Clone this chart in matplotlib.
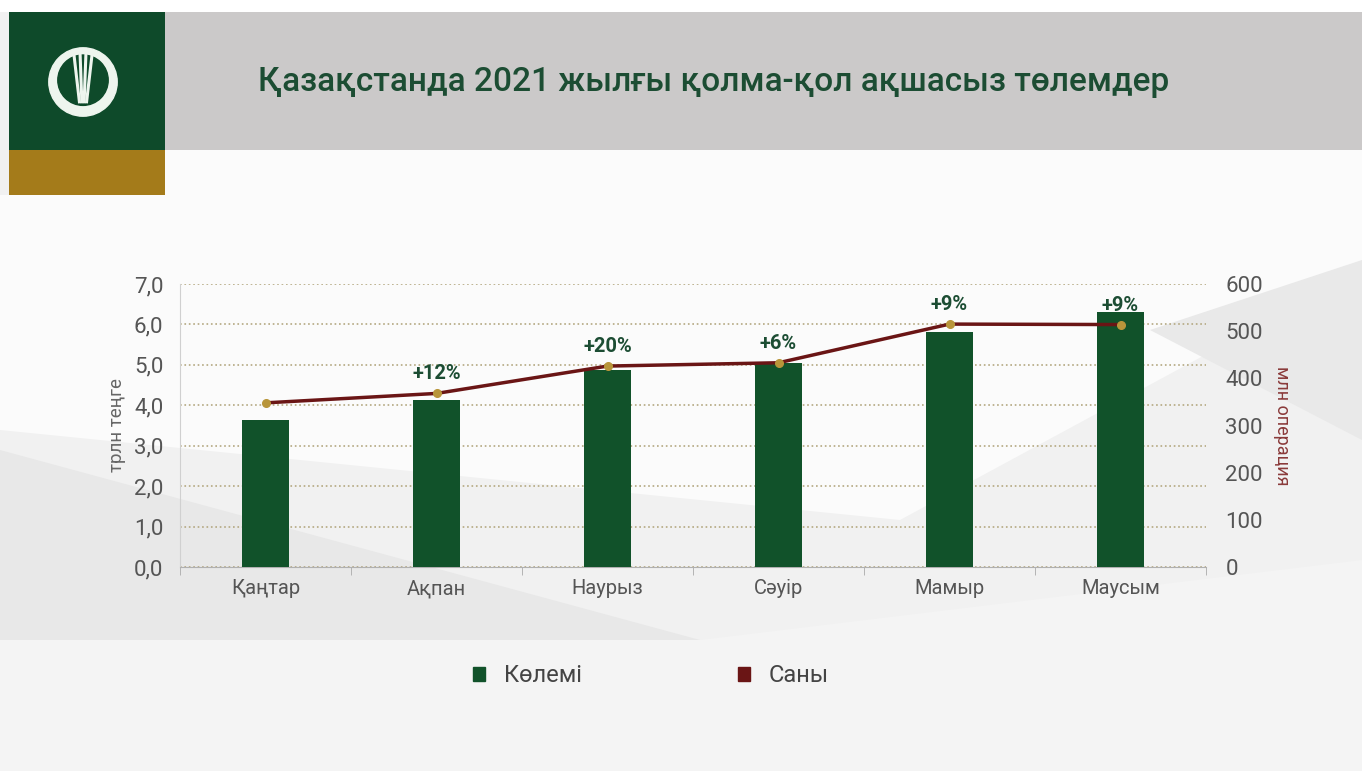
import matplotlib.pyplot as plt
from matplotlib.patches import Rectangle, Polygon, Circle, Patch

plt.rcParams['font.family'] = ['Roboto', 'DejaVu Sans']

months = ["Қаңтар", "Ақпан", "Наурыз", "Сәуір", "Мамыр", "Маусым"]
volume = [3.64, 4.14, 4.88, 5.04, 5.82, 6.30]        # трлн теңге
count = [348, 368, 426, 433, 515, 514]               # млн операция
growth = ["", "+12%", "+20%", "+6%", "+9%", "+9%"]

GREEN = '#11522a'
RED = '#6a1515'
GOLD = '#b8953a'
W, H = 1362, 771

fig = plt.figure(figsize=(W / 100, H / 100), dpi=100)
fig.patch.set_facecolor('#f1f1f1')


def px(x, y):
    return (x / W, 1 - y / H)


def poly(pts, color, z=-10):
    fig.patches.append(Polygon([px(*p) for p in pts], closed=True, transform=fig.transFigure,
                               facecolor=color, edgecolor='none', zorder=z))


def rect(x0, y0, x1, y1, color):
    fig.patches.append(Rectangle(px(x0, y1), (x1 - x0) / W, (y1 - y0) / H, transform=fig.transFigure,
                                 facecolor=color, edgecolor='none', zorder=-5))


# background shapes
poly([(0, 0), (W, 0), (W, 12), (0, 12)], 'white')
poly([(165, 150), (W, 150), (W, 270), (900, 520), (0, 430), (0, 195), (165, 195)], '#fbfbfb')
poly([(0, 450), (700, 640), (0, 640)], '#e8e8e8')
poly([(0, 640), (700, 640), (W, 560), (W, 771), (0, 771)], '#f4f4f4')
poly([(1150, 330), (W, 260), (W, 440)], '#e9e9e9')

# header
rect(165, 12, W, 150, '#cbc9c9')
rect(9, 12, 165, 150, '#0e4a2a')
rect(9, 150, 165, 195, '#a47b1a')

# simple emblem
logo = fig.add_axes([47 / W, 1 - 118 / H, 72 / W, 72 / H])
logo.set_xlim(-1, 1)
logo.set_ylim(-1, 1)
logo.set_aspect('equal')
logo.axis('off')
logo.add_patch(Circle((0, 0), 0.95, color='#eef5ee'))
logo.add_patch(Circle((0, 0.05), 0.7, color='#0e4a2a'))
for dx in (-0.25, -0.08, 0.08, 0.25):
    logo.plot([dx, dx * 0.4], [0.75, -0.55], color='#eef5ee', lw=2.2)

fig.text(258 / W, 1 - 82 / H, "Қазақстанда 2021 жылғы қолма-қол ақшасыз төлемдер",
         fontsize=24, color='#1c4d33', va='center', ha='left', fontweight='medium')

# chart
ax = fig.add_axes([180 / W, 1 - 567 / H, 1026 / W, 283 / H])
ax.patch.set_alpha(0)
x = range(len(months))
ax.bar(x, volume, width=0.27, color=GREEN, zorder=3)
ax.set_ylim(0, 7)
ax.set_xlim(-0.5, len(months) - 0.5)
ax.set_yticks(range(8))
ax.set_yticklabels([f"{v},0" for v in range(8)])
ax.set_xticks(list(x))
ax.set_xticklabels(months)
ax.set_xticks([i + 0.5 for i in range(-1, len(months))], minor=True)
ax.tick_params(axis='x', which='major', length=0, labelsize=14.5, labelcolor='#555555', pad=9)
ax.tick_params(axis='x', which='minor', length=6, color='#aaaaaa', direction='out')
ax.tick_params(axis='y', length=0, labelsize=16, labelcolor='#555555', pad=12)
ax.grid(axis='y', linestyle=':', color='#b4a881', lw=1.2, zorder=0)
for s in ('top', 'right'):
    ax.spines[s].set_visible(False)
ax.spines['left'].set_color('#d0d0d0')
ax.spines['bottom'].set_color('#b0b0b0')
ax.set_ylabel("трлн теңге", fontsize=13.5, color='#666666', labelpad=6)

ax2 = ax.twinx()
ax2.plot(x, count, color=RED, lw=2.5, marker='o', markersize=5.5,
         markerfacecolor=GOLD, markeredgecolor=GOLD, zorder=4)
ax2.set_ylim(0, 600)
ax2.set_yticks(range(0, 601, 100))
ax2.tick_params(axis='y', length=0, labelsize=16, labelcolor='#555555', pad=14)
for s in ('top', 'right', 'left', 'bottom'):
    ax2.spines[s].set_visible(False)
ax2.set_ylabel("млн операция", fontsize=13, color='#8a3a3a', rotation=-90, labelpad=20)

for i, g in enumerate(growth):
    if g:
        ax2.annotate(g, (i, count[i]), xytext=(0, 14), textcoords='offset points',
                     ha='center', va='center', fontsize=14.5, fontweight='bold', color='#1c4d33')

handles = [Patch(color=GREEN, label="Көлемі"), Patch(color=RED, label="Саны")]
fig.legend(handles=handles, loc='center', bbox_to_anchor=(0.478, 1 - 676 / H), ncol=2,
           frameon=False, handlelength=0.5, handleheight=0.5, handletextpad=0.8,
           columnspacing=6.6, labelcolor='#444444', prop={'size': 17})

fig.savefig('out.png', dpi=100, facecolor=fig.get_facecolor())
